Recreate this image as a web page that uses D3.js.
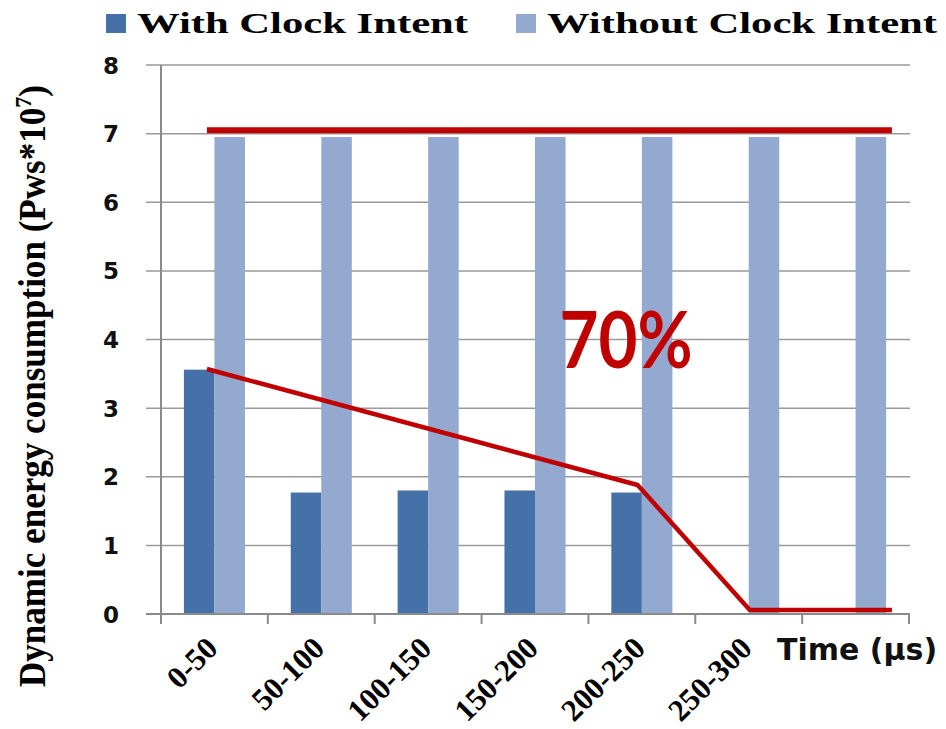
<!DOCTYPE html>
<html>
<head>
<meta charset="utf-8">
<script src="https://cdn.jsdelivr.net/npm/d3@7.9.0/dist/d3.min.js"></script>
<style>
  html, body { margin: 0; padding: 0; background: #fff; }
  svg { display: block; }
</style>
</head>
<body>
<svg id="chart" width="946" height="729"></svg>
<script>
// data
const categories = ['0-50', '50-100', '100-150', '150-200', '200-250', '250-300', ''];
const withClock = [3.56, 1.77, 1.80, 1.80, 1.77, 0, 0];
const withoutClock = [6.95, 6.95, 6.95, 6.95, 6.95, 6.95, 6.95];
const seriesNames = ['With Clock Intent', 'Without Clock Intent'];
const yTicks = [0, 1, 2, 3, 4, 5, 6, 7, 8];

// red annotation lines, in (band position, value)
const topLine = [[0.43, 7.05], [6.84, 7.05]];
const trendLine = [[0.43, 3.57], [4.46, 1.88], [5.51, 0.06], [6.84, 0.06]];
const savingLabel = '70%';

const colors = ['#4571a8', '#93a9cf'];
const red = '#c00000';

const svg = d3.select('#chart');
const pLeft = 161, pRight = 909, pTop = 65, pBottom = 614;

const x = d3.scaleBand().domain(d3.range(categories.length)).range([pLeft, pRight]).paddingInner(0).paddingOuter(0);
const inner = d3.scaleBand().domain([0, 1]).range([0, x.bandwidth()]).paddingInner(0).paddingOuter(0.75);
const y = d3.scaleLinear().domain([0, 8]).range([pBottom, pTop]);
const u = d3.scaleLinear().domain([0, categories.length]).range([pLeft, pRight]);

// gridlines + y ticks
const grid = svg.append('g');
grid.selectAll('line').data(yTicks).enter().append('line')
  .attr('x1', pLeft - 15).attr('x2', pRight + 1)
  .attr('y1', d => y(d)).attr('y2', d => y(d))
  .attr('stroke', '#9a9a9a').attr('stroke-width', 1.5);

svg.append('g').selectAll('text').data(yTicks).enter().append('text')
  .attr('x', 119).attr('y', d => y(d) + 8.5)
  .attr('text-anchor', 'end')
  .attr('font-family', 'DejaVu Sans').attr('font-weight', 'bold').attr('font-size', 23)
  .attr('fill', '#111')
  .text(d => d);

// bars
const series = [withClock, withoutClock];
series.forEach((vals, s) => {
  svg.append('g').selectAll('rect').data(vals).enter().append('rect')
    .attr('x', (d, i) => x(i) + inner(s))
    .attr('width', inner.bandwidth())
    .attr('y', d => y(d))
    .attr('height', d => y(0) - y(d))
    .attr('fill', colors[s]);
});

// axes lines
svg.append('line').attr('x1', pLeft).attr('x2', pLeft).attr('y1', pTop).attr('y2', pBottom + 10)
  .attr('stroke', '#8a8a8a').attr('stroke-width', 2);
svg.append('line').attr('x1', pLeft - 15).attr('x2', pRight + 1).attr('y1', pBottom).attr('y2', pBottom)
  .attr('stroke', '#8a8a8a').attr('stroke-width', 2);
svg.append('g').selectAll('line').data(d3.range(categories.length + 1)).enter().append('line')
  .attr('x1', d => u(d)).attr('x2', d => u(d))
  .attr('y1', pBottom).attr('y2', pBottom + 10)
  .attr('stroke', '#8a8a8a').attr('stroke-width', 2);

// category labels
svg.append('g').selectAll('text').data(categories).enter().append('text')
  .attr('transform', (d, i) => `translate(${x(i) + x.bandwidth() / 2 + 5},${650}) rotate(-45)`)
  .attr('text-anchor', 'end')
  .attr('font-family', 'Liberation Serif').attr('font-weight', 'bold').attr('font-size', 31)
  .attr('fill', '#000')
  .text(d => d);

svg.append('text').attr('x', 777).attr('y', 660)
  .attr('font-family', 'DejaVu Sans').attr('font-weight', 'bold').attr('font-size', 30)
  .attr('fill', '#111')
  .text('Time (µs)');

// y title
const yt = svg.append('text')
  .attr('transform', 'translate(45,687) rotate(-90)')
  .attr('font-family', 'Liberation Serif').attr('font-weight', 'bold').attr('font-size', 38)
  .attr('textLength', 602).attr('lengthAdjust', 'spacingAndGlyphs')
  .attr('fill', '#000');
yt.append('tspan').text('Dynamic energy consumption  (Pws*10');
yt.append('tspan').attr('font-size', 24).attr('dy', -14).text('7');
yt.append('tspan').attr('dy', 14).text(')');

// legend
const legendX = [106, 516], legendW = [331, 390];
seriesNames.forEach((name, s) => {
  svg.append('rect').attr('x', legendX[s]).attr('y', 14).attr('width', 20).attr('height', 19)
    .attr('fill', colors[s]);
  svg.append('text').attr('x', legendX[s] + 31).attr('y', 33)
    .attr('font-family', 'Liberation Serif').attr('font-weight', 'bold').attr('font-size', 30)
    .attr('textLength', legendW[s]).attr('lengthAdjust', 'spacingAndGlyphs')
    .attr('fill', '#000')
    .text(name);
});

// red annotations
const line = d3.line().x(d => u(d[0])).y(d => y(d[1]));
svg.append('path').attr('d', line(topLine)).attr('fill', 'none')
  .attr('stroke', red).attr('stroke-width', 6);
svg.append('path').attr('d', line(trendLine)).attr('fill', 'none')
  .attr('stroke', red).attr('stroke-width', 4.5).attr('stroke-linejoin', 'round');

svg.append('text').attr('x', u(3.73)).attr('y', y(3.59))
  .attr('font-family', 'Lato').attr('font-weight', 'bold').attr('font-size', 78)
  .attr('textLength', 133).attr('lengthAdjust', 'spacingAndGlyphs')
  .attr('fill', red)
  .text(savingLabel);
</script>
</body>
</html>
